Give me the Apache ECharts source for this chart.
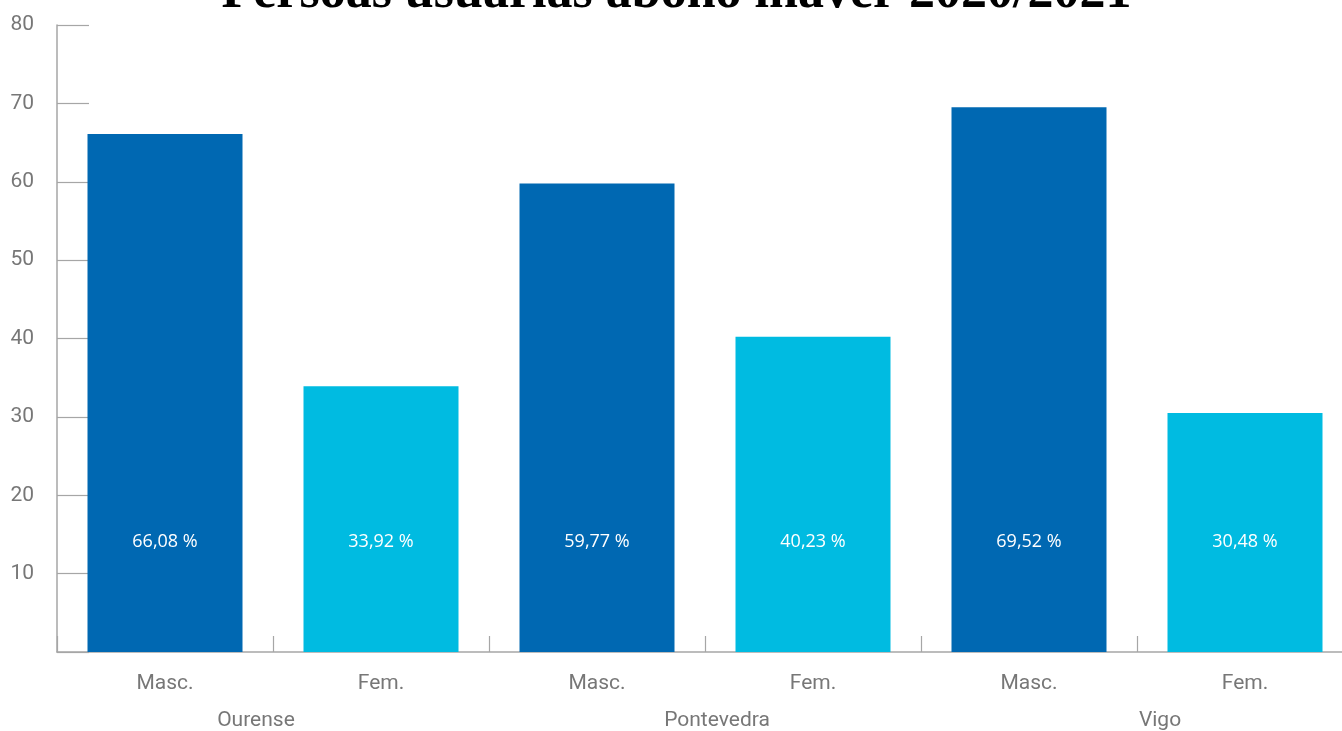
<!DOCTYPE html>
<html>
<head>
<meta charset="utf-8">
<script src="https://cdn.jsdelivr.net/npm/echarts@6/dist/echarts.min.js"></script>
<style>
html,body{margin:0;padding:0;background:#fff;overflow:hidden;width:1342px;height:731px;}
#chart{width:1353px;height:731px;}
</style>
</head>
<body>
<div id="chart"></div>
<script>
const titleText = 'Persoas usuarias abono inaver 2020/2021';
const categories = ['Masc.', 'Fem.', 'Masc.', 'Fem.', 'Masc.', 'Fem.'];
const groups = ['Ourense', 'Pontevedra', 'Vigo'];
const masc = [66.08, 59.77, 69.52];
const fem = [33.92, 40.23, 30.48];
const yTicks = [0, 10, 20, 30, 40, 50, 60, 70, 80];

const DARK = '#0068b2';
const LIGHT = '#00bbe1';

const values = [];
for (let i = 0; i < groups.length; i++) {
  values.push({ value: masc[i], itemStyle: { color: DARK } });
  values.push({ value: fem[i], itemStyle: { color: LIGHT } });
}

const chart = echarts.init(document.getElementById('chart'), null, { renderer: 'canvas' });
const axisColor = '#a6a6a6';
const labelColor = '#777777';
const LF = 21;

chart.setOption({
  animation: false,
  backgroundColor: '#fff',
  title: {
    text: titleText,
    left: 'center',
    top: -37,
    textStyle: {
      fontFamily: 'Liberation Serif',
      fontWeight: 'bold',
      fontSize: 52,
      color: '#000'
    }
  },
  grid: { left: 57, right: 0, top: 25, bottom: 78, containLabel: false },
  xAxis: [
    {
      type: 'category',
      data: categories,
      position: 'bottom',
      axisLine: { show: true, lineStyle: { color: axisColor, width: 1.5 } },
      axisTick: { show: true, inside: true, length: 16, lineStyle: { color: axisColor, width: 1.2 } },
      axisLabel: { color: labelColor, fontFamily: 'Roboto', fontSize: LF, margin: 21 }
    },
    {
      type: 'category',
      data: groups,
      position: 'bottom',
      axisLine: { show: false },
      axisTick: { show: false },
      axisLabel: {
        color: labelColor,
        fontFamily: 'Roboto',
        fontSize: LF,
        margin: 58,
        formatter: (v, i) => '{g' + i + '|' + v + '}',
        rich: {
          g0: { padding: [0, 34, 0, 0], color: labelColor, fontFamily: 'Roboto', fontSize: LF },
          g1: { padding: [0, 0, 0, 24], color: labelColor, fontFamily: 'Roboto', fontSize: LF },
          g2: { padding: [0, 0, 0, 46], color: labelColor, fontFamily: 'Roboto', fontSize: LF }
        }
      }
    }
  ],
  yAxis: {
    type: 'value',
    min: yTicks[0],
    max: yTicks[yTicks.length - 1],
    interval: 10,
    axisLine: { show: true, lineStyle: { color: axisColor, width: 1.5 } },
    axisTick: { show: true, inside: true, length: 32, lineStyle: { color: axisColor, width: 1.2 } },
    splitLine: { show: false },
    axisLabel: {
      color: labelColor,
      fontFamily: 'Roboto',
      fontSize: LF,
      margin: 23,
      formatter: v => (v === 0 ? '' : String(v))
    }
  },
  series: [
    {
      type: 'bar',
      xAxisIndex: 0,
      data: values,
      barWidth: 155,
      label: {
        show: true,
        position: 'insideBottom',
        distance: 101,
        color: '#fff',
        fontFamily: 'Open Sans',
        fontSize: 18,
        formatter: p => p.value.toFixed(2).replace('.', ',') + ' %'
      }
    }
  ]
});
</script>
</body>
</html>
